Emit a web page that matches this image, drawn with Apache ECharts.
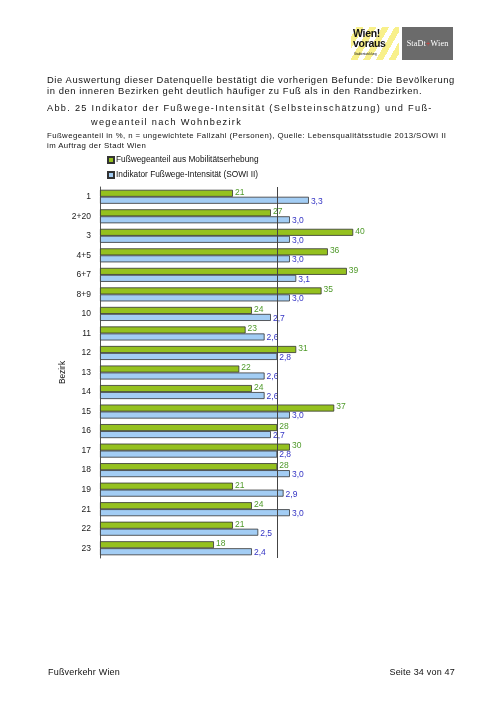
<!DOCTYPE html>
<html>
<head>
<meta charset="utf-8">
<script src="https://cdn.jsdelivr.net/npm/echarts@6/dist/echarts.min.js"></script>
<style>
  html, body { margin: 0; padding: 0; background: #fff; }
  #page { position: relative; width: 504px; height: 712px; overflow: hidden; font-family: 'Liberation Sans', Arial, sans-serif; color: #111; }
  #main { position: absolute; left: 0; top: 0; width: 504px; height: 712px; }
  .txt { position: absolute; white-space: nowrap; }
  .body { font-size: 9.4px; letter-spacing: 0.6px; left: 47px; }
  .head { font-size: 9.2px; letter-spacing: 1.3px; }
  .cap { font-size: 7.8px; letter-spacing: 0.42px; left: 47px; }
  .foot { font-size: 9px; letter-spacing: 0.2px; top: 667px; }
  #logoY { position: absolute; left: 351px; top: 27px; width: 48px; height: 33px;
    background: repeating-linear-gradient(120deg, #fff 0px, #fff 5px, #f8f08a 5px, #f8f08a 11px); }
  #logoG { position: absolute; left: 402px; top: 27px; width: 51px; height: 33px; background: #6b6b6b;
    color: #fff; font-family: 'Liberation Serif', serif; font-size: 8.2px; line-height: 33px; text-align: center; letter-spacing: 0.1px; }
</style>
</head>
<body>
<div id="page">
  <div id="main"></div>
  <div id="logoY">
    <div class="txt" style="left:2px;top:2px;font-weight:bold;font-size:10.5px;line-height:9.5px;letter-spacing:-0.3px">Wien!<br>voraus</div>
    <div class="txt" style="left:3px;top:25px;font-size:3px;">Stadtentwicklung</div>
  </div>
  <div id="logoG">StaDt<span style="color:#e3342f">+</span>Wien</div>

  <div class="txt body" style="top:73.5px">Die Auswertung dieser Datenquelle bestätigt die vorherigen Befunde: Die Bevölkerung</div>
  <div class="txt body" style="top:84.5px">in den inneren Bezirken geht deutlich häufiger zu Fuß als in den Randbezirken.</div>
  <div class="txt head" style="top:102.5px;left:47px">Abb. 25 Indikator der Fußwege-Intensität (Selbsteinschätzung) und Fuß-</div>
  <div class="txt head" style="top:117px;left:91px">wegeanteil nach Wohnbezirk</div>
  <div class="txt cap" style="top:131px">Fußwegeanteil in %, n = ungewichtete Fallzahl (Personen), Quelle: Lebensqualitätsstudie 2013/SOWI II</div>
  <div class="txt cap" style="top:140.5px">im Auftrag der Stadt Wien</div>

  <div class="txt foot" style="left:48px">Fußverkehr Wien</div>
  <div class="txt foot" style="right:49px">Seite 34 von 47</div>
</div>
<script>
// Bezirke (Wohnbezirk)
const districts = ['1', '2+20', '3', '4+5', '6+7', '8+9', '10', '11', '12', '13', '14', '15', '16', '17', '18', '19', '21', '22', '23']
// Fußwegeanteil aus Mobilitätserhebung, in %
const walkShare = [21, 27, 40, 36, 39, 35, 24, 23, 31, 22, 24, 37, 28, 30, 28, 21, 24, 21, 18]
// Indikator Fußwege-Intensität (SOWI II)
const sowiIndex = [3.3, 3.0, 3.0, 3.0, 3.1, 3.0, 2.7, 2.6, 2.8, 2.6, 2.6, 3.0, 2.7, 2.8, 3.0, 2.9, 3.0, 2.5, 2.4]
// Wien gesamt (senkrechte Linie)
const viennaAverage = 28

const narrow = "'Liberation Sans Narrow', 'Arial Narrow', 'Liberation Sans', sans-serif"

const myChart = echarts.init(document.getElementById('main'), null, { renderer: 'canvas' })

myChart.setOption({
  animation: false,
  legend: {
    orient: 'vertical',
    left: 102,
    top: 151,
    itemWidth: 6,
    itemHeight: 6,
    itemGap: 7,
    icon: 'rect',
    textStyle: { fontFamily: narrow, fontSize: 8.3, color: '#111', padding: [0, 0, 0, -3] },
    data: ['Fußwegeanteil aus Mobilitätserhebung', 'Indikator Fußwege-Intensität (SOWI II)']
  },
  grid: { left: 100, top: 187, width: 316.5, height: 371 },
  xAxis: [
    { type: 'value', min: 0, max: 50, show: false },
    { type: 'value', min: 0, max: 5, show: false }
  ],
  yAxis: [
    {
      type: 'category',
      data: districts,
      inverse: true,
      name: 'Bezirk',
      nameLocation: 'middle',
      nameRotate: 90,
      nameGap: 33,
      nameMoveOverlap: false,
      nameTextStyle: { fontFamily: narrow, fontSize: 8.3, color: '#111' },
      axisLine: { lineStyle: { color: '#555', width: 1 } },
      axisTick: { length: 27, lineStyle: { color: '#bbb' } },
      axisLabel: { fontFamily: narrow, fontSize: 8.5, color: '#222', margin: 9 }
    },
    {
      // long top and bottom rules of the category table
      type: 'category',
      data: districts,
      inverse: true,
      position: 'left',
      axisLine: { show: false },
      axisLabel: { show: false },
      axisTick: { length: 45, interval: (i) => i === 0, lineStyle: { color: '#bbb' } }
    }
  ],
  series: [
    {
      name: 'Fußwegeanteil aus Mobilitätserhebung',
      type: 'bar',
      xAxisIndex: 0,
      yAxisIndex: 0,
      data: walkShare,
      barWidth: 7,
      barGap: '0%',
      itemStyle: { color: '#95c11f', borderColor: '#333', borderWidth: 0.8 },
      label: { show: true, position: 'right', distance: 2, fontFamily: narrow, fontSize: 8.5, color: '#4f9a2a', offset: [0, -1] },
      markLine: {
        silent: true,
        symbol: 'none',
        label: { show: false },
        lineStyle: { color: '#444', width: 1, type: 'solid' },
        data: [{ xAxis: viennaAverage }]
      }
    },
    {
      name: 'Indikator Fußwege-Intensität (SOWI II)',
      type: 'bar',
      xAxisIndex: 1,
      yAxisIndex: 0,
      data: sowiIndex,
      barWidth: 7,
      itemStyle: { color: '#a3cdf4', borderColor: '#333', borderWidth: 0.8 },
      label: {
        show: true, position: 'right', distance: 2, fontFamily: narrow, fontSize: 8.5, color: '#3434c4', offset: [0, 1],
        formatter: (p) => p.value.toFixed(1).replace('.', ',')
      }
    }
  ]
})
</script>
</body>
</html>
